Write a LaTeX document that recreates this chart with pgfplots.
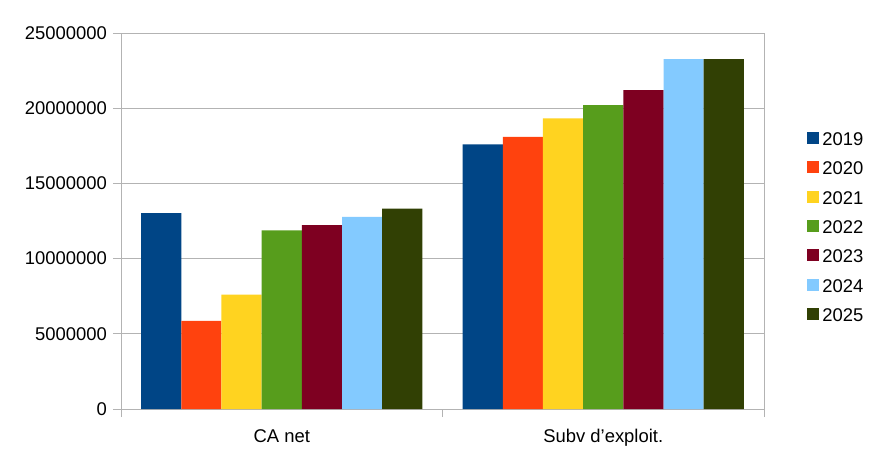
\documentclass[border=0pt]{standalone}
\usepackage{fontspec}
\setmainfont{Liberation Sans}
\usepackage{pgfplots}
\pgfplotsset{compat=1.18}
\definecolor{c19}{HTML}{004586}
\definecolor{c20}{HTML}{FF420E}
\definecolor{c21}{HTML}{FFD320}
\definecolor{c22}{HTML}{579D1C}
\definecolor{c23}{HTML}{7E0021}
\definecolor{c24}{HTML}{83CAFF}
\definecolor{c25}{HTML}{314004}
\definecolor{gridc}{HTML}{B3B3B3}
\begin{document}
\fontsize{18.5}{22}\selectfont
\begin{tikzpicture}
\useasboundingbox (-121bp,-51bp) rectangle (750bp,409bp);
\begin{axis}[
  at={(0,0)}, anchor=south west,
  scale only axis, width=643bp, height=376bp,
  xmin=-0.5, xmax=1.5, ymin=0, ymax=25000000,
  ytick={0,5000000,10000000,15000000,20000000,25000000},
  scaled y ticks=false,
  yticklabel style={/pgf/number format/fixed, /pgf/number format/precision=0, /pgf/number format/1000 sep={}, inner sep=0pt, anchor=east, xshift=-6bp},
  /pgf/number format/assume math mode=true,
  ymajorgrids, grid style={gridc, line width=0.8bp},
  axis line style={gridc, line width=0.8bp},
  tick style={gridc, line width=0.8bp},
  tick align=outside, major tick length=8bp,
  xtick pos=bottom, ytick pos=left,
  xtick={-0.5,0.5,1.5}, xticklabels={},
  extra x ticks={0,1}, extra x tick labels={CA net,Subv d’exploit.},
  extra x tick style={major tick length=0pt, xticklabel style={anchor=north, inner sep=0pt, text height=13.5bp, text depth=4bp, yshift=-20bp}},
  ybar, bar width=0.125,
  legend style={draw=none, fill=none, at={(1.067,0.737)}, anchor=north west, inner sep=0pt, row sep=15.8bp, font=\fontsize{18.5}{22}\selectfont, nodes={inner sep=0pt, text height=13bp, text depth=0bp}},
  legend cell align=left,
  legend image code/.code={\fill[#1] (0bp,-5bp) rectangle (12bp,7bp);},
  every axis plot/.append style={draw=none},
]
\addplot[fill=c19, bar shift=-0.375] coordinates {(0,13020000) (1,17600000)};
\addplot[fill=c20, bar shift=-0.25] coordinates {(0,5860000) (1,18100000)};
\addplot[fill=c21, bar shift=-0.125] coordinates {(0,7610000) (1,19330000)};
\addplot[fill=c22, bar shift=0] coordinates {(0,11870000) (1,20210000)};
\addplot[fill=c23, bar shift=0.125] coordinates {(0,12220000) (1,21210000)};
\addplot[fill=c24, bar shift=0.25] coordinates {(0,12780000) (1,23260000)};
\addplot[fill=c25, bar shift=0.375] coordinates {(0,13320000) (1,23270000)};
\legend{\,2019,\,2020,\,2021,\,2022,\,2023,\,2024,\,2025}
\end{axis}
\end{tikzpicture}
\end{document}
